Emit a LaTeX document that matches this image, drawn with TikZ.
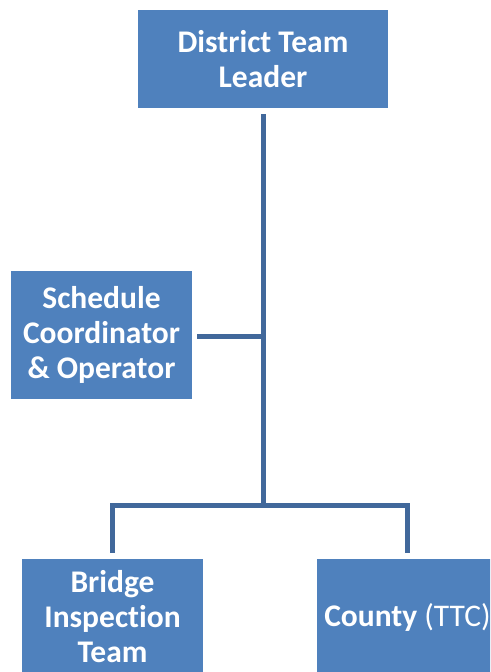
\documentclass[tikz,border=0pt]{standalone}
\usepackage{fontspec}
\setmainfont{Carlito}[Ligatures={NoCommon}]
\definecolor{boxblue}{RGB}{79,129,189}
\definecolor{lineblue}{RGB}{65,104,155}
\begin{document}
\begin{tikzpicture}[x=1pt,y=-1pt,
  orgbox/.style={fill=boxblue, draw=none, text=white, align=center, inner sep=0pt,
    font=\fontsize{31.5}{35}\selectfont\bfseries},
  conn/.style={draw=lineblue, line width=5pt}]
\useasboundingbox (0,0) rectangle (490,672);
\clip (0,0) rectangle (490,672);
\node[orgbox, minimum width=250pt, minimum height=98pt] (top) at (263,59) {District Team\\Leader};
\node[orgbox, minimum width=181pt, minimum height=128pt] (sched) at (101.5,335) {Schedule\\Coordinator\\\& Operator};
\node[orgbox, minimum width=181pt, minimum height=116pt] (bridge) at (112.5,617) {Bridge\\Inspection\\Team};
\node[orgbox, minimum width=181pt, minimum height=116pt] (county) at (407.5,617) {County {\mdseries(TTC)}};
\coordinate (j) at (263,505);
\coordinate (s) at (263,336);
\draw[conn] ([yshift=-6pt]top.south) -- (j);
\draw[conn] ([xshift=5pt]sched.east |- s) -- (s);
\draw[conn] ([yshift=6pt]bridge.north) |- (j) -| ([yshift=6pt]county.north);
\end{tikzpicture}
\end{document}
